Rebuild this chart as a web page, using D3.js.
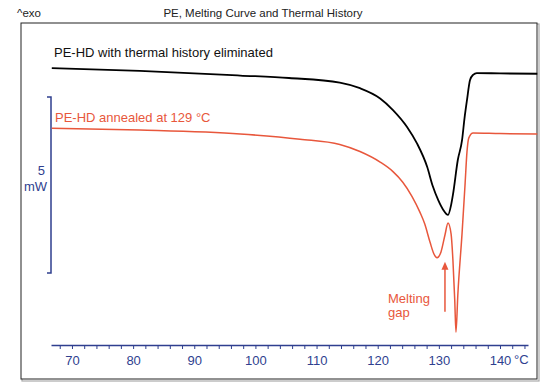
<!DOCTYPE html>
<html>
<head>
<meta charset="utf-8">
<script src="https://cdn.jsdelivr.net/npm/d3@7"></script>
<style>
  html, body { margin: 0; padding: 0; background: #fff; }
  svg { display: block; font-family: "Liberation Sans", Arial, sans-serif; }
</style>
</head>
<body>
<svg id="chart" width="551" height="390"></svg>
<script>
// ---- data (temperature in °C, heat flow in mW, exo up) ----
const blackTemps = [66.7, 81.1, 97.5, 105.5, 113.8, 117.1, 120.4, 122.5, 124.8, 126.4, 128.1, 129.0, 129.9, 130.7, 131.5, 132.0, 132.3, 133.1, 133.8, 134.2, 134.6, 135.1, 135.6, 136.2, 140, 146.1];
const blackValues = [5.82, 5.74, 5.61, 5.54, 5.41, 5.25, 4.96, 4.63, 4.15, 3.69, 3.01, 2.47, 2.07, 1.80, 1.65, 1.93, 2.22, 3.21, 3.78, 4.40, 4.91, 5.48, 5.63, 5.68, 5.67, 5.66];

const redTemps = [66.7, 81.1, 97.5, 107.3, 113.8, 117.1, 120.4, 122.5, 124.1, 125.6, 126.9, 127.7, 128.55, 129.2, 129.7, 130.35, 131.0, 131.5, 132.0, 132.3, 132.6, 132.8, 133.1, 133.8, 134.3, 134.6, 134.9, 135.6, 140, 146.1];
const redValues = [4.11, 4.06, 3.95, 3.80, 3.65, 3.45, 3.15, 2.88, 2.58, 2.18, 1.73, 1.39, 0.88, 0.54, 0.43, 0.60, 1.08, 1.42, 1.11, 0.37, -0.77, -1.68, -0.63, 1.14, 2.56, 3.44, 3.84, 3.98, 3.96, 3.95];

const tickValues = [68, 70, 72, 74, 76, 78, 80, 82, 84, 86, 88, 90, 92, 94, 96, 98, 100, 102, 104, 106, 108, 110, 112, 114, 116, 118, 120, 122, 124, 126, 128, 130, 132, 134, 136, 138, 140, 142, 144];
const tickLabels = ["70", "80", "90", "100", "110", "120", "130", "140"];
const labeledTicks = [70, 80, 90, 100, 110, 120, 130, 140];
const scaleBar = [0, 5]; // mW
const arrowSpan = [-1.1, 0.32]; // mW, arrow from / to (at 131 °C)

const svg = d3.select("#chart");
const BLUE = "#2f3f8f";
const RED = "#e8573c";

// scales
const x = d3.scaleLinear().domain([66.57, 144.58]).range([51, 528]);
const y = d3.scaleLinear().domain([0, 5]).range([273, 97]);

// frame
svg.append("rect").attr("x", 22).attr("y", 24).attr("width", 517).attr("height", 357)
  .attr("fill", "none").attr("stroke", "#aaa").attr("stroke-width", 1.2);
svg.append("rect").attr("x", 21).attr("y", 23).attr("width", 516).attr("height", 356)
  .attr("fill", "#fff").attr("stroke", "#222").attr("stroke-width", 1);

// title and exo label
svg.append("text").attr("x", 263).attr("y", 17).attr("text-anchor", "middle")
  .attr("font-size", 11.5).attr("fill", "#222").text("PE, Melting Curve and Thermal History");
svg.append("text").attr("x", 17).attr("y", 17).attr("font-size", 11.5).attr("fill", "#222").text("^exo");

// x axis
const axis = d3.axisBottom(x).tickValues(tickValues).tickSize(4).tickSizeOuter(0)
  .tickFormat(d => {
    const i = labeledTicks.indexOf(d);
    return i >= 0 ? tickLabels[i] : "";
  });
const gx = svg.append("g").attr("transform", "translate(0,345)").call(axis);
gx.select(".domain").attr("stroke", BLUE).attr("stroke-width", 1.5);
gx.selectAll(".tick line").attr("stroke", BLUE).attr("stroke-width", 1);
gx.selectAll(".tick text").attr("fill", BLUE).attr("font-size", 13)
  .attr("font-family", "Liberation Sans, Arial, sans-serif").attr("dy", "1.0em");
svg.append("text").attr("x", 514).attr("y", 363.5).attr("font-size", 13)
  .attr("fill", BLUE).text("°C");

// scale bar
const sb = d3.path();
sb.moveTo(47, y(scaleBar[1])); sb.lineTo(51, y(scaleBar[1]));
sb.lineTo(51, y(scaleBar[0])); sb.lineTo(47, y(scaleBar[0]));
svg.append("path").attr("d", sb.toString()).attr("fill", "none").attr("stroke", BLUE).attr("stroke-width", 1.5);
svg.append("text").attr("x", 45).attr("y", 175).attr("text-anchor", "end")
  .attr("font-size", 13).attr("fill", BLUE).text(scaleBar[1]);
svg.append("text").attr("x", 47).attr("y", 191).attr("text-anchor", "end")
  .attr("font-size", 13).attr("fill", BLUE).text("mW");

// curves
const line = d3.line().x(d => x(d[0])).y(d => y(d[1])).curve(d3.curveMonotoneX);
svg.append("path").datum(d3.zip(blackTemps, blackValues)).attr("d", line)
  .attr("fill", "none").attr("stroke", "#000").attr("stroke-width", 1.8);
svg.append("path").datum(d3.zip(redTemps, redValues)).attr("d", line)
  .attr("fill", "none").attr("stroke", RED).attr("stroke-width", 1.5);

// curve labels
svg.append("text").attr("x", 54).attr("y", 57).attr("font-size", 13).attr("fill", "#111")
  .text("PE-HD with thermal history eliminated");
svg.append("text").attr("x", 55).attr("y", 122).attr("font-size", 13).attr("fill", RED)
  .text("PE-HD annealed at 129 °C");

// melting gap arrow
const ax = x(131.0);
svg.append("line").attr("x1", ax).attr("x2", ax).attr("y1", y(arrowSpan[0])).attr("y2", y(arrowSpan[1]) + 6)
  .attr("stroke", RED).attr("stroke-width", 1.5);
svg.append("path").attr("d", `M${ax - 3.5},${y(arrowSpan[1]) + 8} L${ax},${y(arrowSpan[1])} L${ax + 3.5},${y(arrowSpan[1]) + 8} Z`)
  .attr("fill", RED);
svg.append("text").attr("x", 388).attr("y", 303).attr("font-size", 13).attr("fill", RED).text("Melting");
svg.append("text").attr("x", 388).attr("y", 317).attr("font-size", 13).attr("fill", RED).text("gap");
</script>
</body>
</html>
